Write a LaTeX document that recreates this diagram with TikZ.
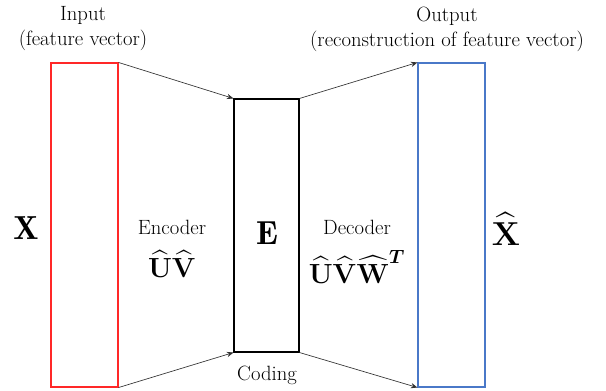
\documentclass[tikz,border=0pt]{standalone}
\usepackage{amsmath,bm}
\usepackage{fontspec}
\usetikzlibrary{positioning,arrows.meta}
\definecolor{inred}{HTML}{FF2828}
\definecolor{outblue}{HTML}{4A78C8}

\begin{document}
\begin{tikzpicture}[x=0.75pt,y=-0.75pt,
  vecbox/.style={rectangle, draw, line width=0.8pt, inner sep=0pt,
    minimum width=50.25pt, minimum height=243pt},
  codebox/.style={rectangle, draw, line width=0.8pt, inner sep=0pt,
    minimum width=48.75pt, minimum height=189.75pt},
  lbl/.style={font=\fontsize{15.5}{18.75}\selectfont, align=center},
  sym/.style={font=\fontsize{25}{30}\selectfont},
  opsym/.style={font=\fontsize{21}{24}\selectfont},
  arr/.style={-{Stealth[length=5pt,width=4pt]}, line width=0.5pt, color=black!80}
]
\useasboundingbox (0,0) rectangle (606,391);

% the three blocks
\node[vecbox, draw=inred] (in) at (84.5,225) {};
\node[codebox, draw=black] (code) at (266.5,225.5) {};
\node[vecbox, draw=outblue] (out) at (451.5,225) {};

% titles
\node[lbl] (intitle) at (83,29) {Input\\(feature vector)};
\node[lbl] (outtitle) at (447,29) {Output\\(reconstruction of feature vector)};
\node[lbl] (coding) at (267,375) {Coding};

% symbols
\node[sym] (x) at (26,228) {$\mathbf{X}$};
\node[sym] (e) at (267,233) {$\mathbf{E}$};
\node[sym] (xhat) at (506,229) {$\bm{\widehat{\mathbf{X}}}$};
\node[lbl] (enc) at (172,227) {Encoder};
\node[opsym, below=5pt of enc] (encop) {$\bm{\widehat{\mathbf{U}}\widehat{\mathbf{V}}}$};
\node[lbl] (dec) at (357,227) {Decoder};
\node[opsym, below=5pt of dec] (decop) {$\bm{\widehat{\mathbf{U}}\widehat{\mathbf{V}}\widehat{\mathbf{W}}^{\bm{T}}}$};

% connectors
\draw[arr] (in.north east) -- (code.north west);
\draw[arr] (in.south east) -- (code.south west);
\draw[arr] (code.north east) -- (out.north west);
\draw[arr] (code.south east) -- (out.south west);
\end{tikzpicture}
\end{document}
